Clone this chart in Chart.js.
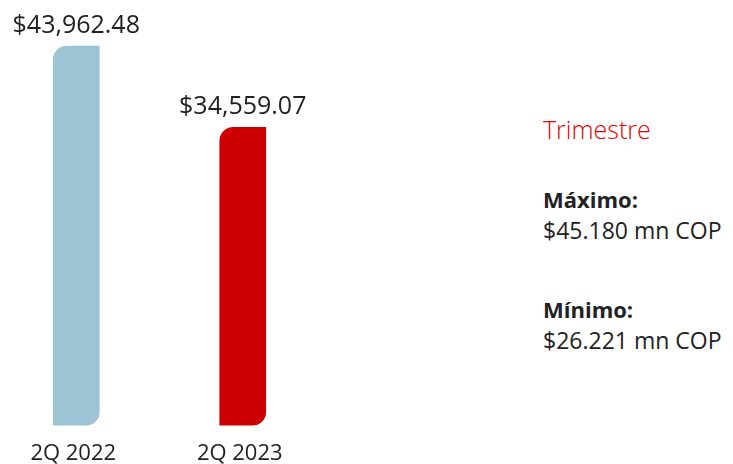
<!DOCTYPE html>
<html>
<head>
<meta charset="utf-8">
<script src="https://cdn.jsdelivr.net/npm/chart.js@4"></script>
<style>
  body { margin: 0; width: 733px; height: 464px; background: #fff; overflow: hidden; position: relative; font-family: "Open Sans", sans-serif; color: #222; }
  #wrap { position: absolute; left: -7px; top: 0; width: 333px; height: 476px; }
  .side { position: absolute; left: 543px; white-space: nowrap; }
  .tit { color: #ec0000; font-size: 25px; font-weight: 300; }
  .lbl { font-size: 22px; font-weight: 700; }
  .val { font-size: 23px; }
</style>
</head>
<body>
<div id="wrap"><canvas id="grafico"></canvas></div>

<div class="side tit" style="top:112px">Trimestre</div>
<div class="side lbl" style="top:184px">Máximo:</div>
<div class="side val" style="top:214px">$45.180 mn COP</div>
<div class="side lbl" style="top:294px">Mínimo:</div>
<div class="side val" style="top:324px">$26.221 mn COP</div>

<script>
// Datos del gráfico
const periodos = ['2Q 2022', '2Q 2023'];
const valores = [43962.48, 34559.07];
const colores = ['#9cc4d4', '#cc0000'];

// Etiquetas de valor encima de cada barra
const etiquetasValor = {
    id: 'etiquetasValor',
    afterDatasetsDraw(chart) {
        const ctx = chart.ctx;
        const meta = chart.getDatasetMeta(0);
        ctx.save();
        ctx.font = '25px "Open Sans"';
        ctx.fillStyle = '#222';
        ctx.textAlign = 'center';
        ctx.textBaseline = 'alphabetic';
        meta.data.forEach(function(bar, i) {
            const texto = '$' + valores[i].toLocaleString('en-US', { minimumFractionDigits: 2, maximumFractionDigits: 2 });
            ctx.fillText(texto, bar.x, bar.y - 13);
        });
        ctx.restore();
    }
};

const ctx = document.getElementById('grafico').getContext('2d');
new Chart(ctx, {
    type: 'bar',
    data: {
        labels: periodos,
        datasets: [{
            data: valores,
            backgroundColor: colores,
            barThickness: 46,
            borderSkipped: false,
            borderRadius: { topLeft: 14, topRight: 0, bottomLeft: 0, bottomRight: 14 }
        }]
    },
    options: {
        responsive: true,
        maintainAspectRatio: false,
        animation: false,
        layout: { padding: { top: 0, bottom: 2, left: 0, right: 0 } },
        plugins: {
            legend: { display: false },
            tooltip: { enabled: false }
        },
        scales: {
            x: {
                grid: { display: false },
                border: { display: false },
                ticks: {
                    color: '#222',
                    padding: 7,
                    labelOffset: -3,
                    font: { family: '"Open Sans"', size: 22 }
                }
            },
            y: {
                display: false,
                min: 0,
                max: 49300
            }
        }
    },
    plugins: [etiquetasValor]
});
</script>
</body>
</html>
